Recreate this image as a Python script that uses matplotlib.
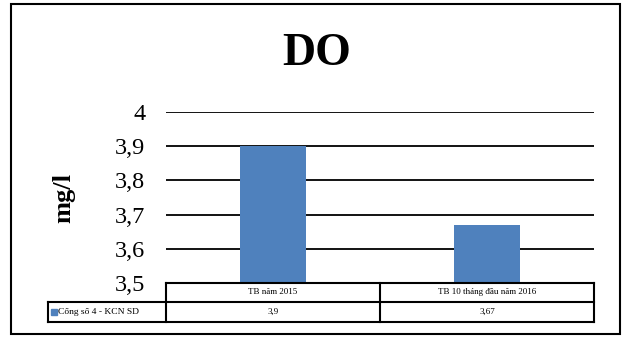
import matplotlib
matplotlib.use("Agg")
from matplotlib import pyplot as plt
from matplotlib.lines import Line2D
from matplotlib.patches import Rectangle

# data
categories = ["TB năm 2015", "TB 10 tháng đầu năm 2016"]
values = [3.9, 3.67]
value_labels = ["3,9", "3,67"]
series_name = "Cống số 4 - KCN SD"
yticks = [3.5, 3.6, 3.7, 3.8, 3.9, 4.0]
ytick_labels = ["3,5", "3,6", "3,7", "3,8", "3,9", "4"]

W, H = 622, 338
bar_color = "#4F81BD"
plt.rcParams["font.family"] = ["Liberation Serif", "DejaVu Serif"]

fig = plt.figure(figsize=(W / 100, H / 100), dpi=100)

def fx(px):
    return px / W

def fy(py):
    return 1 - py / H

# plot area in pixel coords
left, right, top, bottom = 166, 594, 112, 283
ax = fig.add_axes([fx(left), fy(bottom), fx(right - left), (bottom - top) / H])

xs = [i + 0.5 for i in range(len(categories))]
ax.bar(xs, values, width=0.31, color=bar_color, zorder=3)
ax.set_xlim(0, len(categories))
ax.set_ylim(3.5, 4.0)
ax.set_yticks(yticks)
ax.set_yticklabels(ytick_labels, fontsize=17.5)
ax.tick_params(axis="y", length=0, pad=15)
ax.set_xticks([])
for s in ax.spines.values():
    s.set_visible(False)
for t in yticks[1:]:
    ax.axhline(t, color="black", lw=1.3, zorder=2)

# title and y label
fig.text(fx(317), fy(54), "DO", ha="center", va="center", fontsize=33, fontweight="bold")
fig.text(fx(64), fy(198), "mg/l", ha="center", va="center", rotation=90,
         fontsize=19, fontweight="bold")

# data table drawn as lines
def hline(x0, x1, y, lw=1.5):
    fig.add_artist(Line2D([fx(x0), fx(x1)], [fy(y), fy(y)], color="black", lw=lw))

def vline(x, y0, y1, lw=1.5):
    fig.add_artist(Line2D([fx(x), fx(x)], [fy(y0), fy(y1)], color="black", lw=lw))

r0, r1, r2 = 283, 302, 322
label_left = 48
mid = (left + right) / 2
hline(left, right, r0)
hline(label_left, right, r1)
hline(label_left, right, r2)
vline(left, r0, r2)
vline(mid, r0, r2)
vline(right, r0, r2)
vline(label_left, r1, r2)

col_centers = [(left + mid) / 2, (mid + right) / 2]
for cx, cat, lab in zip(col_centers, categories, value_labels):
    fig.text(fx(cx), fy((r0 + r1) / 2), cat, ha="center", va="center", fontsize=6.5)
    fig.text(fx(cx), fy((r1 + r2) / 2), lab, ha="center", va="center", fontsize=6.5)

fig.add_artist(Rectangle((fx(51), fy(315)), fx(6), 6 / H, color=bar_color,
                         transform=fig.transFigure))
fig.text(fx(58), fy((r1 + r2) / 2), series_name, ha="left", va="center", fontsize=6.8)

# outer border
fig.add_artist(Rectangle((fx(11), fy(334)), fx(609), (334 - 4) / H, fill=False,
                         edgecolor="black", lw=1.5, transform=fig.transFigure))

fig.savefig("out.png", dpi=100)
